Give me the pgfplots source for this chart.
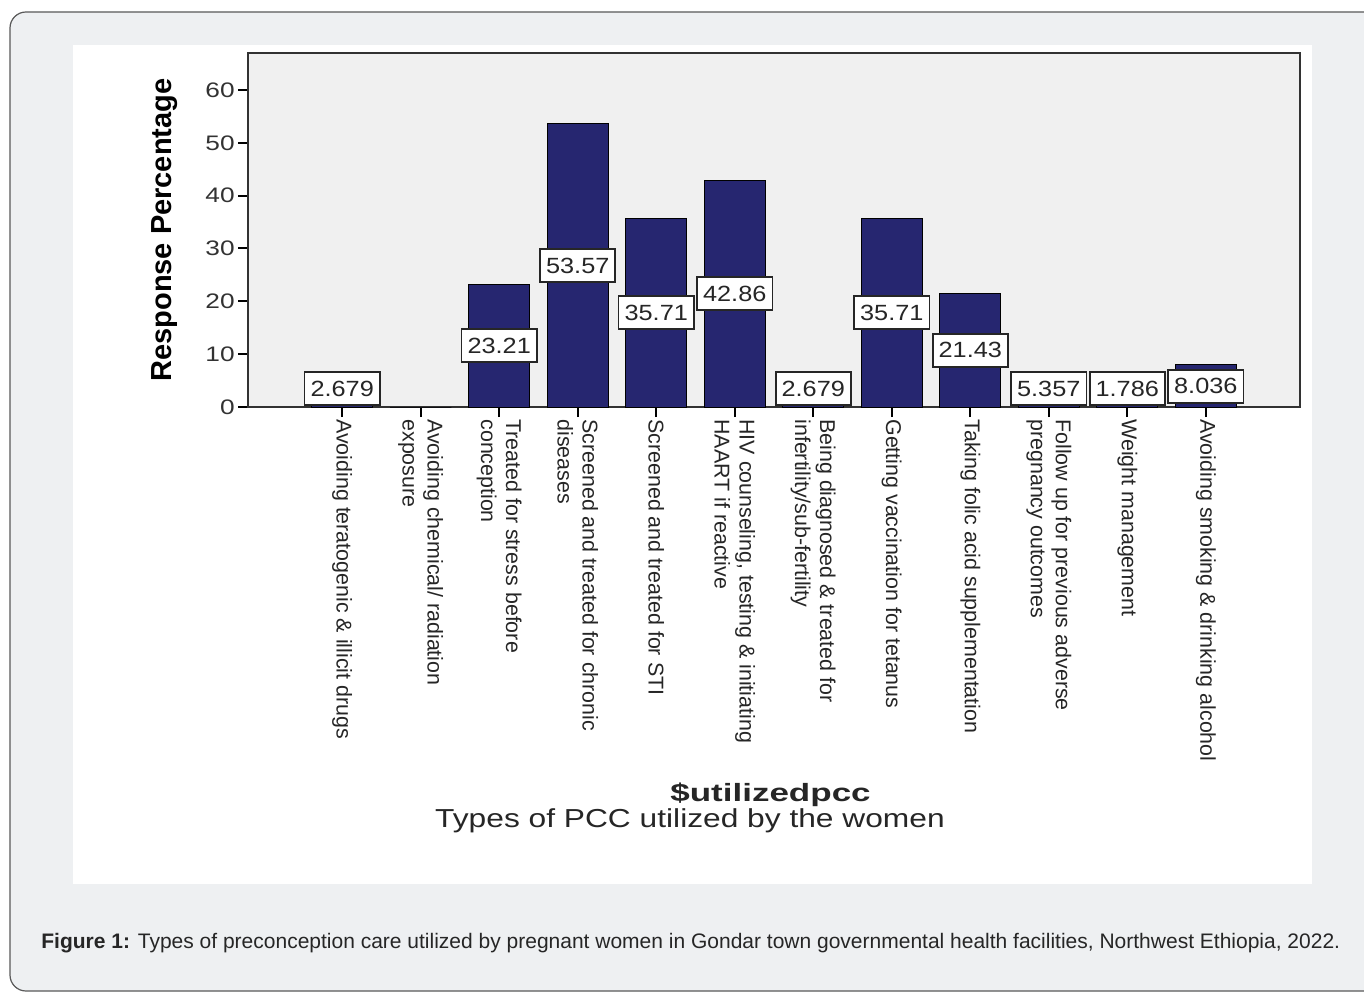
\documentclass[border=0pt]{standalone}
\usepackage{pgfplots}
\pgfplotsset{compat=1.18}
\usepackage{fontspec}
\setmainfont{Liberation Sans}
\usepackage{graphicx}
\definecolor{barblue}{RGB}{38,38,112}
\definecolor{plotbg}{RGB}{240,240,240}
\definecolor{outerbg}{RGB}{238,240,242}
\definecolor{axisgray}{RGB}{50,50,50}
\begin{document}
\begin{tikzpicture}
\useasboundingbox (0,0) rectangle (682pt,496pt);
\clip (0,0) rectangle (682pt,496pt);
\fill[white] (0,0) rectangle (682pt,496pt);
\draw[fill=outerbg, draw=black!65, line width=0.6pt, rounded corners=8pt] (5pt,0.5pt) rectangle (700pt,490pt);
\fill[white] (36.5pt,54pt) rectangle (656pt,473.5pt);
\begin{axis}[
  at={(124pt,292.5pt)}, anchor=south west,
  scale only axis, width=526pt, height=177pt,
  xmin=-1.2, xmax=12.2, ymin=0, ymax=67,
  axis background/.style={fill=plotbg},
  axis line style={axisgray, line width=1pt},
  tick pos=left, tick align=outside,
  major tick length=5pt,
  tick style={black, line width=1pt},
  xtick={0,...,11}, ytick={0,10,...,60},
  /pgf/number format/assume math mode=true,
  yticklabel={\scalebox{1.25}[1]{\pgfmathprintnumber{\tick}}},
  yticklabel style={font=\fontsize{10.5}{12}\selectfont, text=axisgray, inner sep=1.5pt},
  xticklabels={{Avoiding teratogenic \& illicit drugs},{Avoiding chemical/ radiation\\exposure},{Treated for stress before\\conception},{Screened and treated for chronic\\diseases},{Screened and treated for STI},{HIV counseling, testing \& initiating\\HAART if reactive},{Being diagnosed \& treated for\\infertility/sub-fertility},{Getting vaccination for tetanus},{Taking folic acid supplementation},{Follow up for previous adverse\\pregnancy outcomes},{Weight management},{Avoiding smoking \& drinking alcohol}},
  xticklabel style={rotate=-90, anchor=west, align=left, inner sep=1pt, font=\fontsize{10.7}{12.5}\selectfont, text=black!85},
  clip=false,
]
\addplot[ybar, bar width=0.78, fill=barblue, draw=black, line width=0.5pt] coordinates {
 (0,2.679) (1,0) (2,23.21) (3,53.57) (4,35.71) (5,42.86) (6,2.679) (7,35.71) (8,21.43) (9,5.357) (10,1.786) (11,8.036)};
\tikzset{lbl/.style={draw=black!85, line width=0.9pt, fill=white, inner xsep=3pt, inner ysep=0pt, minimum height=16.5pt, text=black!85, font=\fontsize{11}{12}\selectfont}}
\node[lbl] at (axis cs:0,3.5) {\scalebox{1.15}[1]{2.679}};
\node[lbl] at (axis cs:2,11.605) {\scalebox{1.15}[1]{23.21}};
\node[lbl] at (axis cs:3,26.785) {\scalebox{1.15}[1]{53.57}};
\node[lbl] at (axis cs:4,17.855) {\scalebox{1.15}[1]{35.71}};
\node[lbl] at (axis cs:5,21.43) {\scalebox{1.15}[1]{42.86}};
\node[lbl] at (axis cs:6,3.5) {\scalebox{1.15}[1]{2.679}};
\node[lbl] at (axis cs:7,17.855) {\scalebox{1.15}[1]{35.71}};
\node[lbl] at (axis cs:8,10.715) {\scalebox{1.15}[1]{21.43}};
\node[lbl] at (axis cs:9,3.5) {\scalebox{1.15}[1]{5.357}};
\node[lbl] at (axis cs:10,3.5) {\scalebox{1.15}[1]{1.786}};
\node[lbl] at (axis cs:11,3.9) {\scalebox{1.15}[1]{8.036}};
\end{axis}
\node[rotate=90, font=\bfseries\fontsize{14.5}{16}\selectfont, text=black] at (82.5pt,381pt) {Response Percentage};
\node[anchor=base, font=\bfseries\fontsize{12.5}{14}\selectfont, text=black!85] at (385.25pt,95.5pt) {\scalebox{1.4}[1]{\$utilizedpcc}};
\node[anchor=base, font=\fontsize{13}{15}\selectfont, text=black!85] at (345pt,82.5pt) {\scalebox{1.22}[1]{Types of PCC utilized by the women}};
\node[anchor=base west, inner sep=0pt, font=\fontsize{10.5}{12}\selectfont, text=black!85] at (20.5pt,22pt) {\textbf{Figure 1:} Types of preconception care utilized by pregnant women in Gondar town governmental health facilities, Northwest Ethiopia, 2022.};
\end{tikzpicture}
\end{document}
